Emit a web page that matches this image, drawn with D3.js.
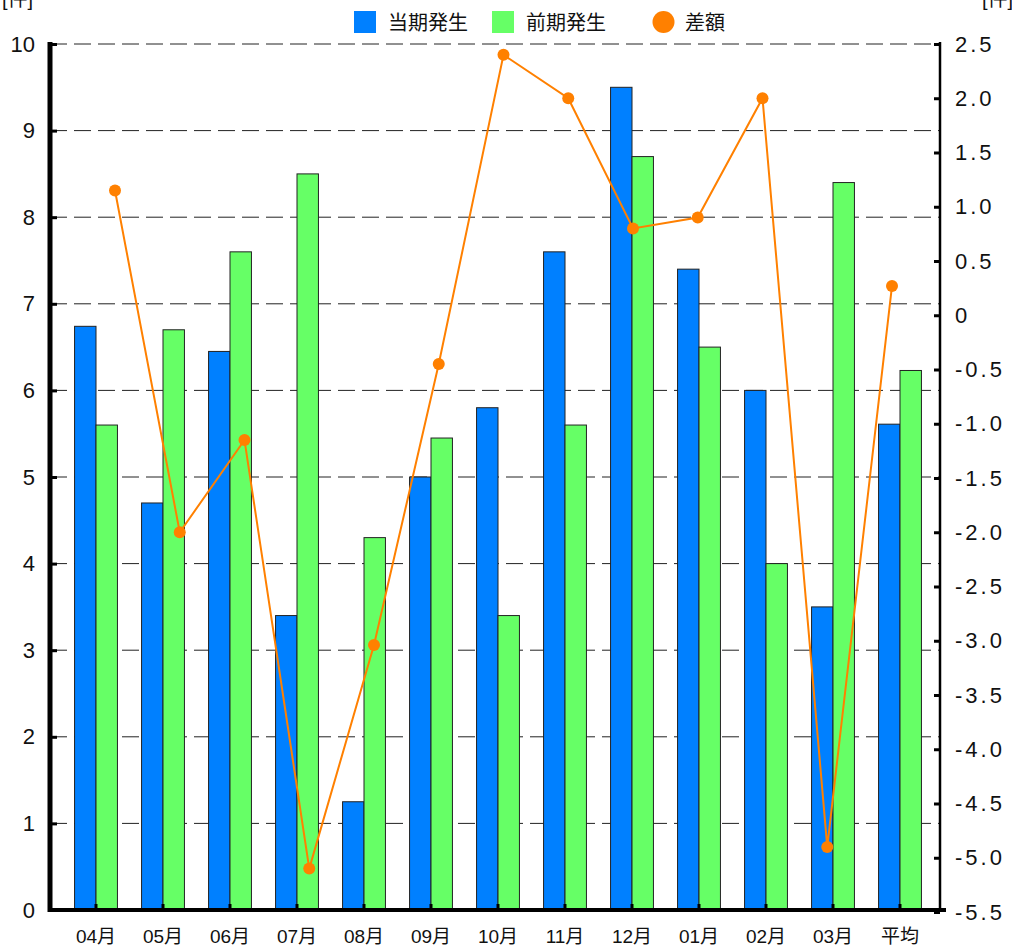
<!DOCTYPE html>
<html><head><meta charset="utf-8">
<script src="https://cdn.jsdelivr.net/npm/d3@7"></script>
<style>
html,body{margin:0;padding:0;background:#fff;}
text{font-family:"Liberation Sans","Noto Sans CJK JP",Arial,sans-serif;fill:#111;}
</style></head><body>
<script>
const categories = ["04月","05月","06月","07月","08月","09月","10月","11月","12月","01月","02月","03月","平均"];
const currentValues = [6.74,4.7,6.45,3.4,1.25,5.0,5.8,7.6,9.5,7.4,6.0,3.5,5.61];
const previousValues = [5.6,6.7,7.6,8.5,4.3,5.45,3.4,5.6,8.7,6.5,4.0,8.4,6.23];
const diffValues = [1.15,-2.0,-1.15,-5.1,-3.04,-0.45,2.4,2.0,0.8,0.9,2.0,-4.9,0.27];
const seriesNames = ["当期発生","前期発生","差額"];
const leftTicks = [0,1,2,3,4,5,6,7,8,9,10];
const rightTicks = [2.5,2.0,1.5,1.0,0.5,0,-0.5,-1.0,-1.5,-2.0,-2.5,-3.0,-3.5,-4.0,-4.5,-5.0,-5.5];

(function(){
const W=1012,H=947;
const pL=50,pR=940,pT=44,pB=910;
const svg=d3.select("body").append("svg").attr("width",W).attr("height",H);

const x=d3.scaleBand().domain(categories).range([62.5,933.5]).paddingInner(0.36).paddingOuter(0.18);
const x1=d3.scaleBand().domain([0,1]).range([0,x.bandwidth()]);
const xLine=d3.scalePoint().domain(categories).range([115,892]);
const yL=d3.scaleLinear().domain([0,10]).range([pB,pT]);
const yR=d3.scaleLinear().domain([-5.5,2.5]).range([pB+2,pT]);

// grid
svg.append("g").selectAll("line").data(leftTicks.filter(d=>d>0)).join("line")
  .attr("x1",pL).attr("x2",pR).attr("y1",d=>yL(d)).attr("y2",d=>yL(d))
  .attr("stroke","#222").attr("stroke-width",1).attr("stroke-dasharray","17,7");

// bars
const colors=["#0080ff","#66ff66"];
const data=categories.map((c,i)=>({c,v:[currentValues[i],previousValues[i]]}));
const g=svg.append("g");
data.forEach(d=>{
  d.v.forEach((v,j)=>{
    g.append("rect").attr("x",x(d.c)+x1(j)).attr("width",x1.bandwidth())
      .attr("y",yL(v)).attr("height",yL(0)-yL(v))
      .attr("fill",colors[j]).attr("stroke","#222").attr("stroke-width",1);
  });
});

// line
const line=d3.line().x((d,i)=>xLine(categories[i])).y(d=>yR(d));
svg.append("path").datum(diffValues).attr("d",line).attr("fill","none")
  .attr("stroke","#ff8000").attr("stroke-width",2);
svg.append("g").selectAll("circle").data(diffValues).join("circle")
  .attr("cx",(d,i)=>xLine(categories[i])).attr("cy",d=>yR(d)).attr("r",6).attr("fill","#ff8000");

// left axis
const la=svg.append("g").attr("transform",`translate(${pL},0)`)
  .call(d3.axisLeft(yL).tickValues(leftTicks).tickSize(-7).tickPadding(15).tickFormat(d3.format("d")));
la.select(".domain").remove();
la.selectAll(".tick line").attr("stroke","#000").attr("stroke-width",3);
la.selectAll(".tick text").style("font-size","22px").attr("fill","#111");
svg.append("line").attr("x1",pL).attr("x2",pL).attr("y1",pT-2).attr("y2",pB+2)
  .attr("stroke","#000").attr("stroke-width",5);

// right axis
const fmtR=d=>d===0?"0":d3.format(".1f")(d).replace("\u2212","-");
const ra=svg.append("g").attr("transform",`translate(${pR},0)`)
  .call(d3.axisRight(yR).tickValues(rightTicks).tickSize(-6).tickPadding(15).tickFormat(fmtR));
ra.select(".domain").remove();
ra.selectAll(".tick line").attr("stroke","#000").attr("stroke-width",3);
ra.selectAll(".tick text").style("font-size","22px").style("letter-spacing","3px").attr("fill","#111");
svg.append("line").attr("x1",pR).attr("x2",pR).attr("y1",pT-2).attr("y2",pB+2)
  .attr("stroke","#000").attr("stroke-width",2.5);

// bottom axis
const ba=svg.append("g").attr("transform",`translate(0,${pB})`)
  .call(d3.axisBottom(x).tickSize(-6).tickPadding(20));
ba.select(".domain").remove();
ba.selectAll(".tick line").attr("stroke","#000").attr("stroke-width",3);
ba.selectAll(".tick text").style("font-size","19px").attr("fill","#111");
svg.append("line").attr("x1",pL-2).attr("x2",946).attr("y1",pB).attr("y2",pB)
  .attr("stroke","#000").attr("stroke-width",4);

// unit labels (cut off at top, as in the reference)
svg.append("text").attr("x",2).attr("y",6).style("font-size","20px").text("[件]");
svg.append("text").attr("x",982).attr("y",6).style("font-size","20px").text("[件]");

// legend
const lg=svg.append("g");
lg.append("rect").attr("x",354).attr("y",11).attr("width",22).attr("height",22).attr("fill",colors[0]);
lg.append("text").attr("x",388).attr("y",30).style("font-size","20px").text(seriesNames[0]);
lg.append("rect").attr("x",492).attr("y",11).attr("width",22).attr("height",22).attr("fill",colors[1]);
lg.append("text").attr("x",526).attr("y",30).style("font-size","20px").text(seriesNames[1]);
lg.append("circle").attr("cx",663.5).attr("cy",22).attr("r",11).attr("fill","#ff8000");
lg.append("text").attr("x",685).attr("y",30).style("font-size","20px").text(seriesNames[2]);
})();
</script>
</body></html>
